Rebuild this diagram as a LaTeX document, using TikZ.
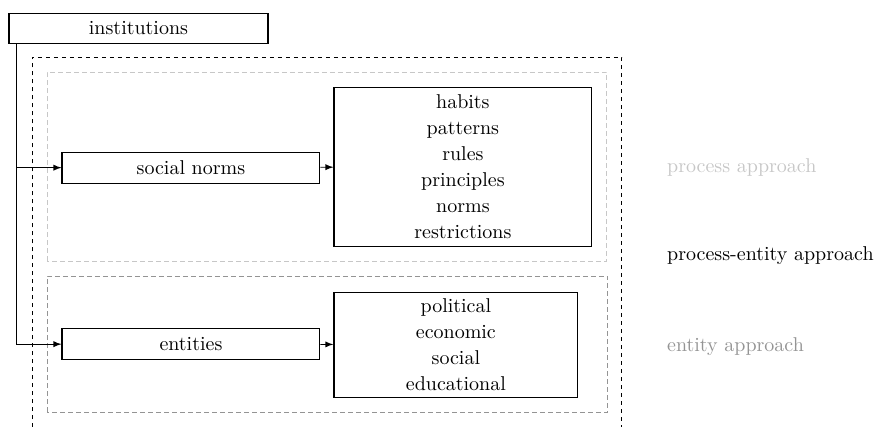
\documentclass[tikz,border=0pt]{standalone}
\usepackage{amsmath,amssymb}
\usepackage{tikz}
\usetikzlibrary{positioning}

\definecolor{lightgrey}{gray}{0.78}
\definecolor{midgrey}{gray}{0.58}

\begin{document}
\begin{tikzpicture}[
  every node/.style={font=\fontsize{10}{13}\selectfont},
  box/.style={draw,semithick,inner sep=1pt,align=center},
  approach/.style={anchor=base west,inner sep=0pt},
  outerframe/.style={thin,dash pattern=on 2pt off 2pt},
  procframe/.style={thin,lightgrey,dash pattern=on 2.5pt off 1.5pt},
  entframe/.style={thin,midgrey,dash pattern=on 2.5pt off 1.5pt}]
\useasboundingbox (0,0) rectangle (15.52,7.49);
% frames around the two approaches
\draw[outerframe] (0.562,-0.3) -- (0.562,6.484) -- (10.93,6.484) -- (10.93,-0.3);
\draw[procframe] (0.826,2.900) rectangle (10.667,6.221);
\draw[entframe] (0.826,0.246) rectangle (10.684,2.636);
% boxes
\node[box,minimum width=4.55cm,minimum height=0.53cm] (inst) at (2.434,6.994) {institutions};
\node[box,minimum width=4.53cm,minimum height=0.545cm] (norms) at (3.356,4.543) {social norms};
\node[box,minimum width=4.53cm,minimum height=0.545cm] (ents) at (3.356,1.441) {entities};
\node[box,minimum width=4.53cm,minimum height=2.794cm] (habits) at (8.136,4.560)
  {habits\\patterns\\rules\\principles\\norms\\restrictions};
\node[box,minimum width=4.288cm,minimum height=1.845cm] (kinds) at (8.013,1.432)
  {political\\economic\\social\\educational};
% approach labels
\node[approach,text=lightgrey] (procLab) at (11.72,4.464) {process approach};
\node[approach] (bothLab) at (11.72,2.917) {process-entity approach};
\node[approach,text=midgrey] (entLab) at (11.72,1.318) {entity approach};
% connectors
\coordinate (trunk) at ([xshift=4pt]inst.south west);
\draw[-latex] (trunk) |- (norms.west);
\draw[-latex] (trunk) |- (ents.west);
\draw[-latex] (norms) -- (habits);
\draw[-latex] (ents) -- (kinds);
\end{tikzpicture}
\end{document}
